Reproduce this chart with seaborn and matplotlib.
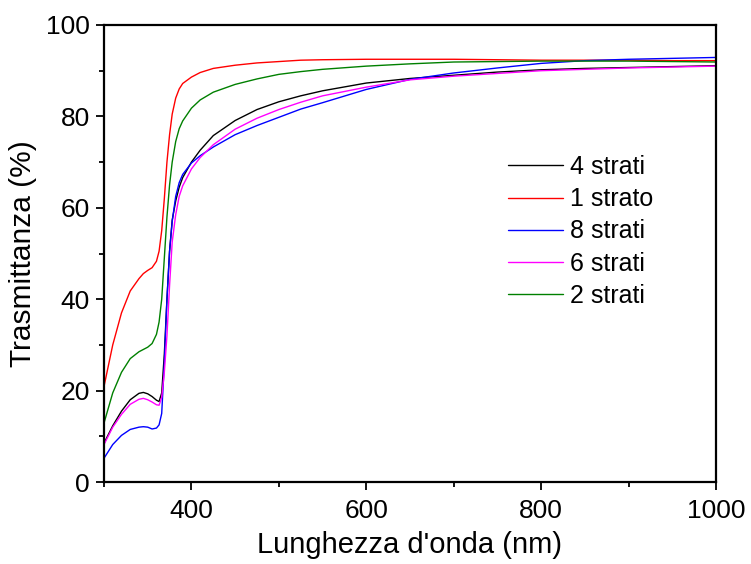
import matplotlib
matplotlib.use("Agg")
import matplotlib.pyplot as plt
import seaborn as sns
import pandas as pd
from matplotlib.ticker import MultipleLocator

wavelength = [300, 310, 320, 330, 340, 345, 350, 355, 360, 363,
              366, 369, 372, 375, 378, 382, 386, 390, 400, 410,
              425, 450, 475, 500, 525, 550, 600, 650, 700, 750,
              800, 850, 900, 950, 1000]

strati_4 = [8.5, 12.3, 15.5, 18.0, 19.4, 19.6, 19.3, 18.7, 17.9, 17.6,
            19.5, 28, 40, 50.5, 57.3, 61.5, 64.5, 66.6, 70, 72.6,
            75.8, 79.1, 81.5, 83.2, 84.5, 85.6, 87.3, 88.3, 89.0, 89.7,
            90.2, 90.5, 90.7, 90.9, 91.1]
strato_1 = [20.9, 30.0, 37.0, 41.8, 44.5, 45.6, 46.3, 46.9, 48.3, 50.5,
            55, 62, 70, 76, 80.5, 84, 86, 87.2, 88.6, 89.6,
            90.5, 91.2, 91.7, 92.0, 92.3, 92.4, 92.5, 92.5, 92.5, 92.4,
            92.3, 92.3, 92.3, 92.2, 92.2]
strati_8 = [5.2, 8.2, 10.2, 11.5, 12.0, 12.1, 12.0, 11.6, 11.8, 12.5,
            15, 26, 40, 50.5, 57, 62.5, 65.5, 67.3, 69.8, 71.4,
            73.3, 76.0, 78.0, 79.8, 81.6, 83.0, 85.9, 88.1, 89.5, 90.6,
            91.6, 92.2, 92.5, 92.7, 92.9]
strati_6 = [8.2, 12, 14.8, 17.0, 18.1, 18.3, 18.0, 17.5, 16.9, 16.8,
            18.5, 24, 32, 43, 52.5, 58.5, 62.5, 64.8, 68.5, 71.0,
            73.8, 77.2, 79.6, 81.5, 83.1, 84.5, 86.4, 88.0, 88.8, 89.4,
            90.0, 90.3, 90.6, 90.8, 91.0]
strati_2 = [12.9, 19.5, 24, 27, 28.5, 29.0, 29.5, 30.3, 32.3, 35,
            40, 49, 58, 65, 70, 74.5, 77.3, 79, 81.8, 83.6,
            85.3, 87.0, 88.2, 89.2, 89.8, 90.3, 91.0, 91.5, 91.9, 92.0,
            92.1, 92.1, 92.1, 92.0, 91.9]

labels = ["4 strati", "1 strato", "8 strati", "6 strati", "2 strati"]
series = [strati_4, strato_1, strati_8, strati_6, strati_2]
colors = ["#000000", "#ff0000", "#0000ff", "#ff00ff", "#008000"]

frames = []
for lab, vals in zip(labels, series):
    frames.append(pd.DataFrame({"wl": wavelength, "T": vals, "campione": lab}))
df = pd.concat(frames, ignore_index=True)

sns.set_style("ticks")
plt.rcParams["font.family"] = ["Liberation Sans", "DejaVu Sans"]
plt.rcParams["text.color"] = "black"
plt.rcParams["axes.labelcolor"] = "black"

fig = plt.figure(figsize=(7.51, 5.64), dpi=100)
ax = fig.add_axes([104 / 751, 1 - 482 / 564, (716 - 104) / 751, (482 - 25) / 564])

sns.lineplot(data=df, x="wl", y="T", hue="campione", hue_order=labels,
             palette=colors, estimator=None, linewidth=1.0, ax=ax)

ax.set_xlim(300, 1000)
ax.set_ylim(0, 100)
ax.xaxis.set_minor_locator(MultipleLocator(100))
ax.yaxis.set_major_locator(MultipleLocator(20))
ax.yaxis.set_minor_locator(MultipleLocator(10))
ax.set_xticks([400, 600, 800, 1000])

for s in ax.spines.values():
    s.set_visible(True)
    s.set_linewidth(1.6)
    s.set_color("black")

ax.tick_params(which="major", direction="out", length=6, width=1.3,
               labelsize=19, colors="black", top=False, right=False)
ax.tick_params(axis="x", which="major", pad=6)
ax.tick_params(axis="y", which="major", pad=4)
ax.tick_params(which="minor", direction="out", length=3.5, width=1.3,
               colors="black", top=False, right=False)

ax.set_xlabel("Lunghezza d'onda (nm)", fontsize=21, labelpad=6, color="black")
ax.set_ylabel("Trasmittanza (%)", fontsize=21.5, labelpad=7, color="black")

handles, labs = ax.get_legend_handles_labels()
leg = ax.legend(handles, labs, loc="upper left", bbox_to_anchor=(508 / 751, 1 - 155 / 564),
                bbox_transform=fig.transFigure, frameon=False, fontsize=18,
                handlelength=2.2, handletextpad=0.3, labelspacing=0.33,
                borderpad=0, borderaxespad=0)
for t in leg.get_texts():
    t.set_color("black")

fig.savefig("out.png", dpi=100)
